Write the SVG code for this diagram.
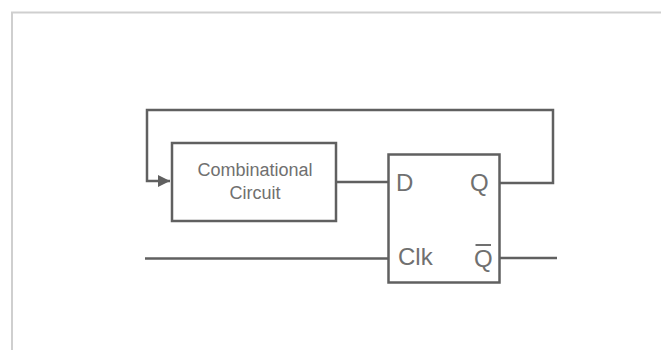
<svg xmlns="http://www.w3.org/2000/svg" width="661" height="350" viewBox="0 0 661 350">
<style>
.frame{fill:none;stroke:#cfcfcf;stroke-width:2}
.box{fill:#fff;stroke:#606060;stroke-width:2.5}
.wire{fill:none;stroke:#606060;stroke-width:2.5}
.lbl{font-family:"Liberation Sans",Arial,sans-serif;fill:#707070}
.small{font-size:18px}
.big{font-size:24px}
</style>
<defs>
<marker id="arr" markerWidth="13" markerHeight="13" refX="12" refY="6" orient="auto" markerUnits="userSpaceOnUse">
<path d="M0,0 L12,6 L0,12 z" fill="#606060"/>
</marker>
</defs>
<rect width="661" height="350" fill="#fff"/>
<path class="frame" d="M12,350 V12.5 H661"/>
<g id="connectors">
<path class="wire" d="M499,183 H553 V110 H147 V181 H170" marker-end="url(#arr)"/>
<path class="wire" d="M336,182 H388"/>
<path class="wire" d="M145,258.5 H388"/>
<path class="wire" d="M499,258 H557"/>
</g>
<g id="comb">
<rect class="box" x="172" y="143" width="164" height="78"/>
<text class="lbl small" x="255" y="176" text-anchor="middle">Combinational</text>
<text class="lbl small" x="255" y="199" text-anchor="middle">Circuit</text>
</g>
<g id="dff">
<rect class="box" x="388.5" y="154.5" width="111" height="128"/>
<text class="lbl big" x="396" y="191">D</text>
<text class="lbl big" x="470" y="191">Q</text>
<text class="lbl big" x="398" y="265">Clk</text>
<text class="lbl big" x="474" y="266.5">Q</text>
<line x1="475.5" y1="245" x2="491" y2="245" stroke="#707070" stroke-width="2"/>
</g>
</svg>
